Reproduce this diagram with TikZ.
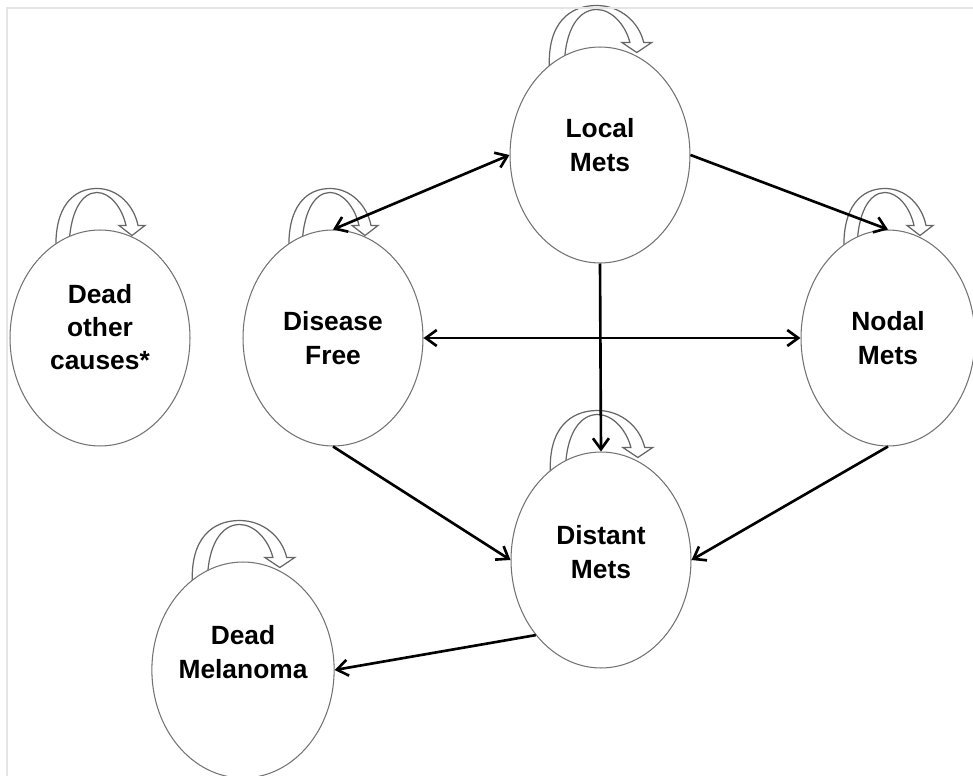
\documentclass[tikz,border=0pt]{standalone}
\usepackage{fontspec}
\setmainfont{Liberation Sans}
\usepackage{tikz}
\usetikzlibrary{arrows.meta, shapes.geometric, backgrounds}

\begin{document}
\begin{tikzpicture}[
  x=0.02cm, y=-0.02cm,
  every node/.style={font=\bfseries\fontsize{15}{19}\selectfont},
  state/.style={ellipse, draw=black!55, line width=0.6pt, fill=white,
    minimum width=3.6cm, minimum height=4.32cm, align=center, inner sep=0pt},
  flow/.style={-{Straight Barb[length=2.2mm, width=3.2mm]}, line width=1.5pt},
  twoway/.style={{Straight Barb[length=2.2mm, width=3.2mm]}-{Straight Barb[length=2.2mm, width=3.2mm]},
    line width=1.5pt},
  loopline/.style={draw=black!60, fill=white, line width=0.7pt},
  selfloop/.pic={
    \draw[loopline] (-44,22) .. controls (-46,-24) and (-26,-41) .. (-3,-41)
      .. controls (18,-41) and (34,-24) .. (38,-4)
      -- (45,-4) -- (32,6) -- (19,-4) -- (26,-4)
      .. controls (22,-22) and (10,-37) .. (-3,-37)
      .. controls (-18,-37) and (-31,-18) .. (-31,22) -- cycle;
  },
]
  \useasboundingbox (0,0) rectangle (973,776);
  \draw[black!10, line width=0.8pt] (7,776) |- (973,8);

  % states
  \node[state, text depth=0.4cm] (lm) at (600,155) {Local\\Mets};
  \node[state] (df) at (333,338) {Disease\\Free};
  \node[state, minimum width=3.48cm] (nm) at (888,338) {Nodal\\Mets};
  \node[state, text depth=0.44cm] (doc) at (100,338) {Dead\\other\\causes*};
  \node[state, text depth=0.32cm] (dm) at (601,560) {Distant\\Mets};
  \node[state, text depth=0.72cm] (dmel) at (243,670) {Dead\\Melanoma};

  % stay in the same state
  \begin{scope}[on background layer]
    \pic[xscale=1.15] at (lm.north) {selfloop};
    \pic at (df.north) {selfloop};
    \pic at (nm.north) {selfloop};
    \pic at (doc.north) {selfloop};
    \pic[xscale=1.15] at (dm.north) {selfloop};
    \pic[xscale=1.15] at (dmel.north) {selfloop};
  \end{scope}

  % transitions
  \draw[twoway] (df.north) -- (lm.west);
  \draw[flow] (lm.east) -- (nm.north);
  \draw[twoway] (df.east) -- (nm.west);
  \draw[flow] (lm.south) -- (dm.north);
  \draw[flow] (df.south) -- (dm.west);
  \draw[flow] (nm.south) -- (dm.east);
  \draw[flow] (dm.229) -- (dmel.east);
\end{tikzpicture}
\end{document}
